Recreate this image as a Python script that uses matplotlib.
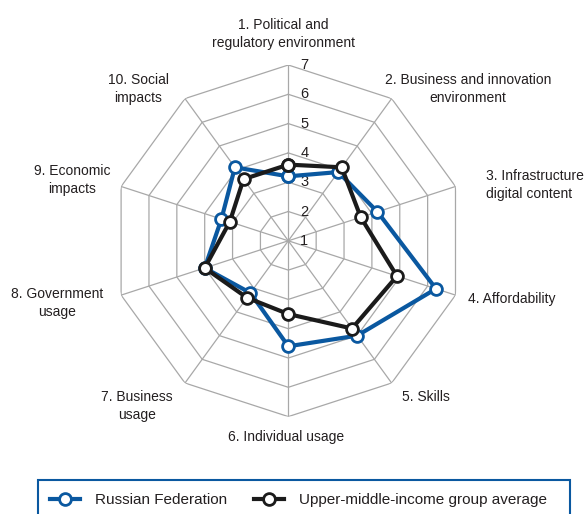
import numpy as np
import matplotlib
matplotlib.use("Agg")
import matplotlib.pyplot as plt
from matplotlib.lines import Line2D
from matplotlib.patches import Rectangle

plt.rcParams["font.family"] = ["Liberation Sans", "DejaVu Sans"]

categories = [
    "1. Political and\nregulatory environment",
    "2. Business and innovation\nenvironment",
    "3. Infrastructure and\ndigital content",
    "4. Affordability",
    "5. Skills",
    "6. Individual usage",
    "7. Business\nusage",
    "8. Government\nusage",
    "9. Economic\nimpacts",
    "10. Social\nimpacts",
]
russia = [3.2, 3.9, 4.2, 6.3, 5.0, 4.6, 3.2, 4.0, 3.4, 4.1]
upper_middle = [3.6, 4.1, 3.6, 4.9, 4.7, 3.5, 3.4, 4.0, 3.1, 3.6]
rings = [2, 3, 4, 5, 6, 7]
tick_labels = ["1", "2", "3", "4", "5", "6", "7"]

BLUE = "#0a58a0"
BLACK = "#1b1b1b"
GRID = "#a8a8a8"
TEXT = "#231f20"

W, H = 585, 514
fig = plt.figure(figsize=(W / 100, H / 100), dpi=100)

# polar axes, centre at (288, 241) px, r=7 ring at 176 px
cx, cy, rad = 288.3, 240.8, 175.8
ax = fig.add_axes([(cx - rad) / W, (H - cy - rad) / H, 2 * rad / W, 2 * rad / H],
                  projection="polar")
ax.set_theta_zero_location("N")
ax.set_theta_direction(-1)
ax.set_ylim(1, 7)
ax.grid(False)
ax.set_xticks([])
ax.set_yticks([])
ax.spines["polar"].set_visible(False)
ax.patch.set_visible(False)

n = len(categories)
theta = np.arange(n) * 2 * np.pi / n
theta_closed = np.append(theta, theta[0])

# decagon grid
for r in rings:
    ax.plot(theta_closed, [r] * (n + 1), color=GRID, lw=0.9, zorder=1)
for t in theta:
    ax.plot([t, t], [1, 7], color=GRID, lw=0.9, zorder=1)

for i, lab in enumerate(tick_labels):
    ax.annotate(lab, xy=(0, i + 1), xytext=(16, 0), textcoords="offset pixels",
                ha="center", va="center", fontsize=10.5, color=TEXT, zorder=2)

def close(v):
    return list(v) + [v[0]]

ax.plot(theta_closed, close(russia), color=BLUE, lw=3, marker="o", markersize=8.5,
        markerfacecolor="white", markeredgecolor=BLUE, markeredgewidth=2, zorder=3,
        clip_on=False)
ax.plot(theta_closed, close(upper_middle), color=BLACK, lw=3, marker="o", markersize=8.5,
        markerfacecolor="white", markeredgecolor=BLACK, markeredgewidth=2, zorder=4,
        clip_on=False)

# category labels (pixel positions of text block centres)
label_pos = [
    (283, 34, "center"),
    (468, 89, "center"),
    (486, 185, "left"),
    (512, 299, "center"),
    (426, 397, "center"),
    (286, 437, "center"),
    (137, 406, "center"),
    (57, 303, "center"),
    (72, 180, "center"),
    (138, 89, "center"),
]
for lab, (x, y, ha) in zip(categories, label_pos):
    fig.text(x / W, 1 - y / H, lab, ha=ha, va="center", ma=ha, fontsize=10,
             color=TEXT, linespacing=1.35)

# legend box, cut at the bottom like the source
fig.patches.append(Rectangle((38 / W, -0.05), 532 / W, 1 - 480 / H + 0.05,
                             transform=fig.transFigure, fill=False,
                             edgecolor=BLUE, lw=1.5))
handles = [
    Line2D([], [], color=BLUE, lw=3, marker="o", markersize=8.5, markerfacecolor="white",
           markeredgecolor=BLUE, markeredgewidth=2),
    Line2D([], [], color=BLACK, lw=3, marker="o", markersize=8.5, markerfacecolor="white",
           markeredgecolor=BLACK, markeredgewidth=2),
]
fig.legend(handles, ["Russian Federation", "Upper-middle-income group average"],
           loc="center left", bbox_to_anchor=(50 / W, 1 - 500 / H), ncol=2,
           frameon=False, fontsize=11, handlelength=1.95, handletextpad=1.0,
           columnspacing=1.75, borderpad=0, borderaxespad=0, labelcolor=TEXT)

fig.savefig("out.png", dpi=100)
